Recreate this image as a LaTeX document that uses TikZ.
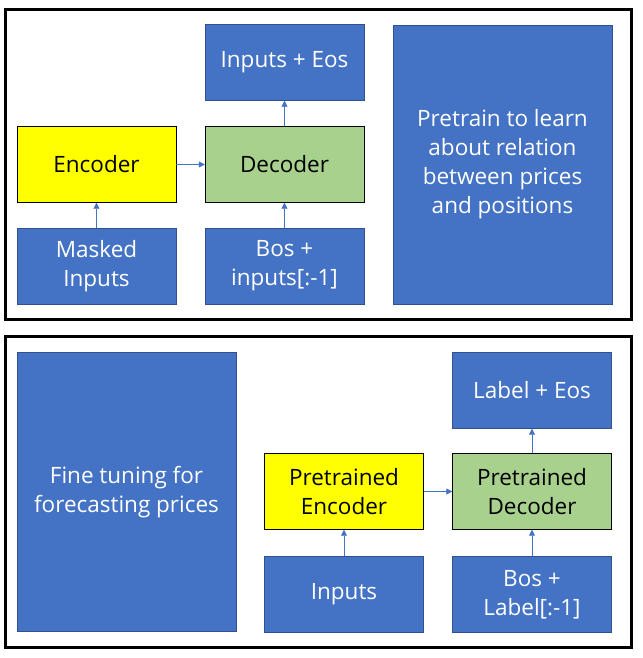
\documentclass[tikz,border=0pt]{standalone}
\usepackage{fontspec}
\setmainfont{Open Sans}
\usetikzlibrary{arrows.meta}
\definecolor{boxblue}{HTML}{4472C4}
\definecolor{boxedge}{HTML}{2F528F}
\definecolor{encyellow}{HTML}{FFFF00}
\definecolor{decgreen}{HTML}{A9D18E}

\begin{document}
\begin{tikzpicture}[
  x=1pt,y=-1pt,
  >={Triangle[length=6pt,width=6pt]},
  block/.style={draw=boxedge,fill=boxblue,text=white,align=center,
    minimum width=159pt,minimum height=76pt,inner sep=0pt,
    font=\fontsize{22.5}{29}\selectfont},
  enc/.style={block,draw=black,fill=encyellow,text=black},
  dec/.style={block,draw=black,fill=decgreen,text=black},
  note/.style={block,minimum width=219pt,minimum height=279pt},
  frame/.style={draw=black,line width=3pt},
  link/.style={->,draw=boxblue,line width=0.8pt}
]
  \useasboundingbox (0,0) rectangle (642,658);

  % pretraining
  \draw[frame] (5,10) rectangle (631,319);
  \node[block] (pout) at (284.5,62.5) {Inputs + Eos};
  \node[enc] (penc) at (96.5,164.5) {Encoder};
  \node[dec] (pdec) at (284.5,164.5) {Decoder};
  \node[block] (pin) at (96.5,266) {Masked\\Inputs};
  \node[block] (pbos) at (284.5,266) {Bos +\\inputs[:-1]};
  \node[note] (pnote) at (502.5,164.5) {Pretrain to learn\\about relation\\between prices\\and positions};

  \draw[link] (pin) -- (penc);
  \draw[link] (penc) -- (pdec);
  \draw[link] (pbos) -- (pdec);
  \draw[link] (pdec) -- (pout);

  % fine tuning
  \draw[frame] (5,336) rectangle (631,647);
  \node[note] (fnote) at (126.5,492) {Fine tuning for\\forecasting prices};
  \node[block] (fout) at (532,390.5) {Label + Eos};
  \node[enc] (fenc) at (344,491.5) {Pretrained\\Encoder};
  \node[dec] (fdec) at (532,491.5) {Pretrained\\Decoder};
  \node[block] (fin) at (344,594.5) {Inputs};
  \node[block] (fbos) at (532,594.5) {Bos +\\Label[:-1]};

  \draw[link] (fin) -- (fenc);
  \draw[link] (fenc) -- (fdec);
  \draw[link] (fbos) -- (fdec);
  \draw[link] (fdec) -- (fout);
\end{tikzpicture}
\end{document}
